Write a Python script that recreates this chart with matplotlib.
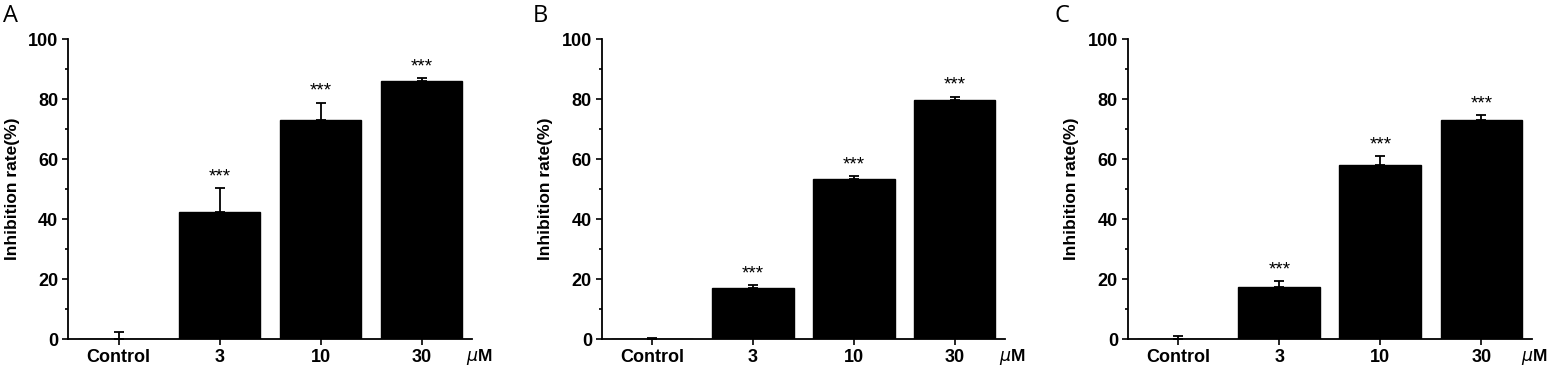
import matplotlib
matplotlib.use("Agg")
import matplotlib.pyplot as plt
from matplotlib.ticker import MultipleLocator
import numpy as np

plt.rcParams['font.family'] = ['Liberation Sans', 'DejaVu Sans']

categories = ['Control', '3', '10', '30']
panel_names = ['A', 'B', 'C']

# mean inhibition rate (%) and upper error (SD) per panel
means_a = [0.0, 42.5, 73.1, 86.1]
errs_a = [2.3, 7.8, 5.6, 0.8]
means_b = [0.0, 17.0, 53.3, 79.8]
errs_b = [0.4, 1.0, 0.9, 1.0]
means_c = [0.0, 17.4, 58.1, 73.1]
errs_c = [1.0, 1.9, 2.9, 1.5]
stars = ['', '***', '***', '***']

all_means = [means_a, means_b, means_c]
all_errs = [errs_a, errs_b, errs_c]

fig = plt.figure(figsize=(15.5, 3.65), dpi=100)

# axes boxes in figure fractions (left, right)
lefts = [68/1550, 601.7/1550, 1127.7/1550]
rights = [472/1550, 1005/1550, 1532/1550]
bottom = 1 - 339/365
top = 1 - 39/365
label_x = [3/1550, 533/1550, 1055/1550]
unit_x = [3.44, 3.44, 3.39]  # where the uM label starts, in category units

x = np.arange(len(categories))

for i in range(3):
    ax = fig.add_axes([lefts[i], bottom, rights[i]-lefts[i], top-bottom])
    m = all_means[i]
    e = all_errs[i]
    ax.bar(x, m, width=0.81, color='black', edgecolor='black', zorder=2)
    ax.errorbar(x, m, yerr=[np.zeros(len(e)), e], fmt='none', ecolor='black',
                elinewidth=1.3, capsize=3.5, capthick=1.3, zorder=3)
    for j in range(len(categories)):
        if stars[j]:
            ax.text(x[j], m[j] + e[j] + 1.0, stars[j], ha='center', va='bottom',
                    fontsize=13.5, fontweight='normal')
    ax.set_xlim(-0.5, 3.5)
    ax.set_ylim(0, 100)
    ax.set_xticks(x)
    ax.set_xticklabels(categories, fontsize=13, fontweight='bold')
    ax.yaxis.set_major_locator(MultipleLocator(20))
    ax.yaxis.set_minor_locator(MultipleLocator(10))
    for lab in ax.get_yticklabels():
        lab.set_fontweight('bold')
        lab.set_fontsize(13)
    ax.tick_params(axis='both', which='major', direction='out', length=4, width=1.2)
    ax.tick_params(axis='y', which='minor', direction='out', length=2.5, width=1.2)
    ax.tick_params(axis='x', pad=3)
    ax.tick_params(axis='y', pad=3)
    ax.spines['top'].set_visible(False)
    ax.spines['right'].set_visible(False)
    ax.spines['left'].set_linewidth(1.3)
    ax.spines['bottom'].set_linewidth(1.3)
    ax.set_ylabel('Inhibition rate(%)', fontsize=12.5, fontweight='bold', labelpad=6)
    ax.text(unit_x[i], -0.06, r'$\mu$M', transform=ax.get_xaxis_transform(),
            ha='left', va='center', fontsize=12.5, fontweight='bold')
    fig.text(label_x[i], 0.99, panel_names[i], fontsize=17, ha='left', va='top',
             family=['Open Sans', 'DejaVu Sans'])

fig.savefig('out.png', dpi=100)
